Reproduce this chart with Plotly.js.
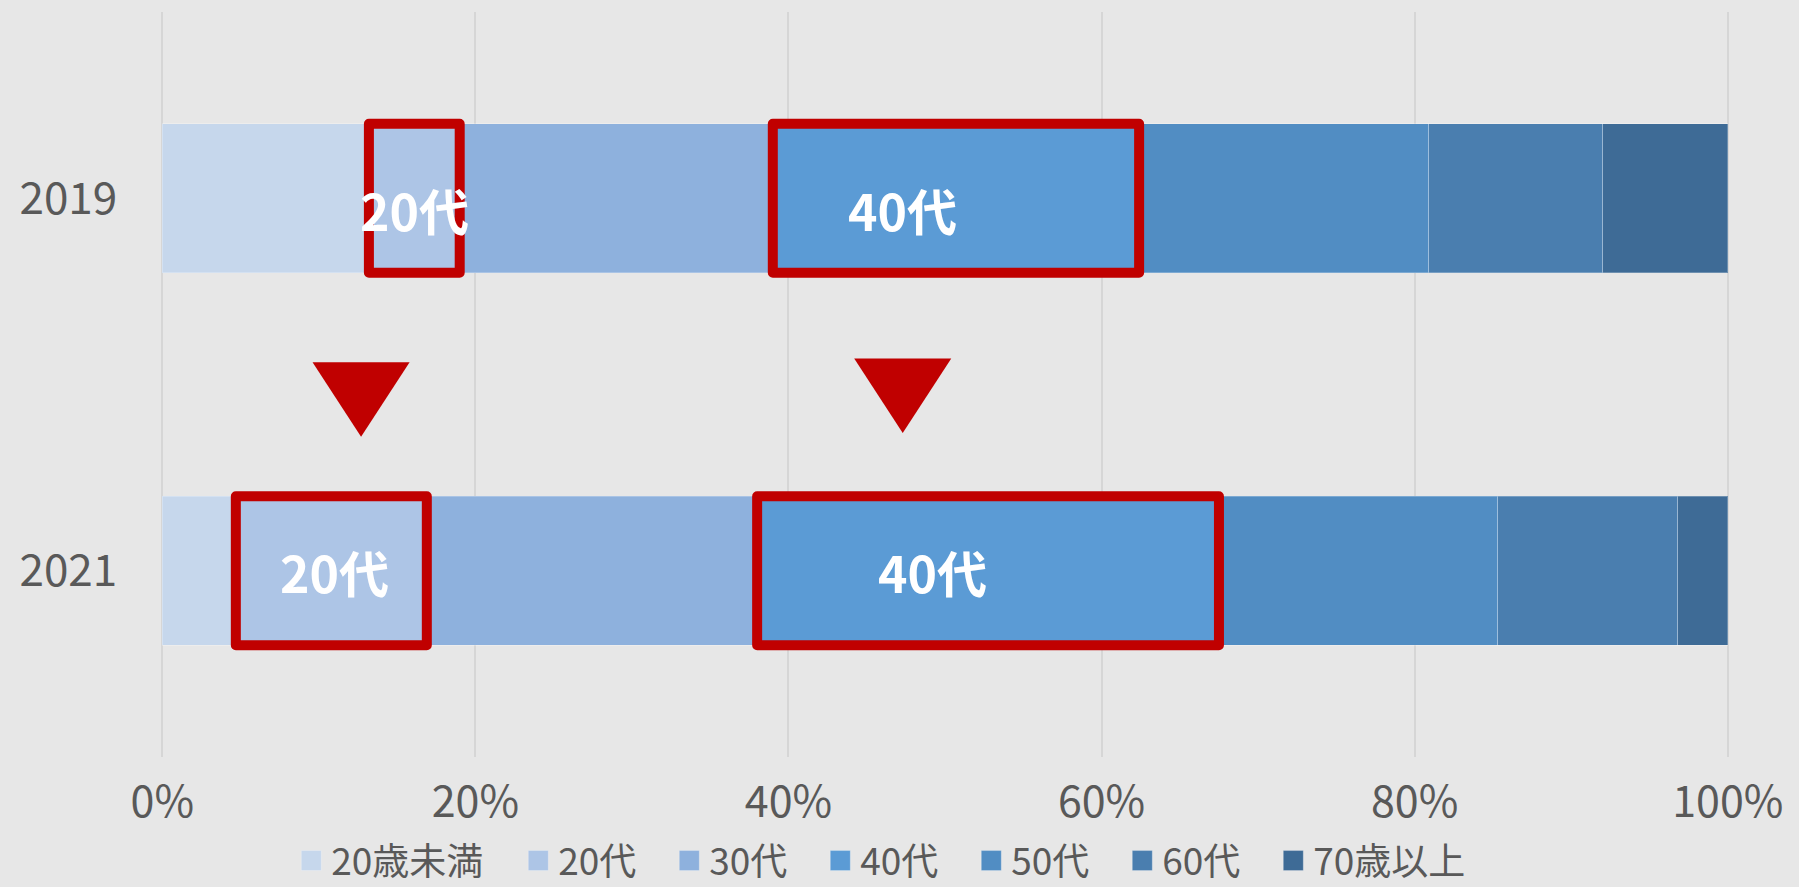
<!DOCTYPE html>
<html>
<head>
<meta charset="utf-8">
<script src="https://cdn.plot.ly/plotly-3.0.1.min.js"></script>
<style>
  html, body { margin: 0; padding: 0; background: #E7E7E7; }
  #chart { width: 1799px; height: 887px; }
</style>
</head>
<body>
<div id="chart"></div>
<script>
// ---- data ----
const categories = ['2019', '2021'];
const ageGroups = ['20歳未満', '20代', '30代', '40代', '50代', '60代', '70歳以上'];
const share2019 = [13.2, 5.8, 20.0, 23.4, 18.5, 11.1, 8.0];
const share2021 = [4.7, 12.2, 21.1, 29.5, 17.8, 11.5, 3.2];
const xTickVals = [0, 20, 40, 60, 80, 100];
const xTickLabels = ['0%', '20%', '40%', '60%', '80%', '100%'];
const highlightGroups = ['20代', '40代'];
// label x positions (percent) for highlight labels, per year [2019, 2021]
const labelX = { '20代': [16.1, 11.0], '40代': [47.3, 49.2] };
// down arrows between years (percent centres)
const arrowX = [12.7, 47.3];

// ---- style ----
const colors = ['#C6D7EC', '#ADC5E6', '#8EB1DD', '#5B9BD5', '#518DC3', '#4A7EAF', '#3E6B96'];
const legendWidths = [182, 106, 106, 106, 106, 106, 160];
const textColor = '#595959';
const fontFam = '"Noto Sans CJK JP", "Noto Sans", sans-serif';
const barWidth = 0.4;

const seriesByYear = [share2019, share2021];

const traces = ageGroups.map((g, i) => ({
  type: 'bar',
  orientation: 'h',
  name: g,
  y: categories,
  x: seriesByYear.map(s => s[i]),
  marker: { color: colors[i], line: { color: 'rgba(255,255,255,0.25)', width: 1 } },
  width: barWidth,
  legendwidth: legendWidths[i],
  hoverinfo: 'skip'
}));

// cumulative boundaries
function bounds(series, idx) {
  let start = 0;
  for (let k = 0; k < idx; k++) start += series[k];
  return [start, start + series[idx]];
}

const shapes = [];
const annotations = [];
categories.forEach((cat, ci) => {
  highlightGroups.forEach(g => {
    const gi = ageGroups.indexOf(g);
    const [x0, x1] = bounds(seriesByYear[ci], gi);
    shapes.push({
      type: 'rect', xref: 'x', yref: 'y',
      x0: x0, x1: x1, y0: ci - barWidth / 2, y1: ci + barWidth / 2,
      line: { color: '#C00000', width: 10 },
      fillcolor: 'rgba(0,0,0,0)', layer: 'above'
    });
    annotations.push({
      xref: 'x', yref: 'y', x: labelX[g][ci], y: ci + (ci === 0 ? 0.03 : 0.0),
      text: '<b>' + g + '</b>', showarrow: false,
      font: { family: fontFam, size: 50, color: '#FFFFFF' },
      xanchor: 'center', yanchor: 'middle'
    });
  });
});

// down triangles
const arrowTop = [0.44, 0.43];
const arrowTip = [0.64, 0.63];
const arrowHalf = 3.1;
arrowX.forEach((ax, i) => {
  shapes.push({
    type: 'path', xref: 'x', yref: 'y',
    path: `M ${ax - arrowHalf},${arrowTop[i]} L ${ax + arrowHalf},${arrowTop[i]} L ${ax},${arrowTip[i]} Z`,
    fillcolor: '#C00000', line: { width: 0 }, layer: 'above'
  });
});

const layout = {
  width: 1799, height: 887,
  paper_bgcolor: '#E7E7E7', plot_bgcolor: '#E7E7E7',
  margin: { l: 161, r: 70, t: 12, b: 130, autoexpand: false },
  barmode: 'stack',
  bargap: 0.6,
  font: { family: fontFam, color: textColor },
  xaxis: {
    range: [-0.08, 100.08], tickvals: xTickVals, ticktext: xTickLabels,
    showgrid: true, gridcolor: '#D6D6D6', gridwidth: 2, zeroline: false,
    showline: false, ticks: 'outside', ticklen: 7, tickcolor: 'rgba(0,0,0,0)',
    tickfont: { family: fontFam, size: 43, color: textColor }, fixedrange: true,
    automargin: false
  },
  yaxis: {
    type: 'category', categoryarray: categories, categoryorder: 'array',
    range: [1.5, -0.5],
    showgrid: false, zeroline: false, showline: false,
    ticks: 'outside', ticklen: 34, tickcolor: 'rgba(0,0,0,0)',
    tickfont: { family: fontFam, size: 44, color: textColor }, fixedrange: true,
    automargin: false
  },
  showlegend: true,
  legend: {
    orientation: 'h', traceorder: 'normal',
    x: 0.4616, xanchor: 'center',
    yref: 'container', y: 0, yanchor: 'bottom',
    font: { family: fontFam, size: 37, color: textColor },
    bgcolor: 'rgba(0,0,0,0)'
  },
  shapes: shapes,
  annotations: annotations,
  hovermode: false
};

Plotly.newPlot('chart', traces, layout, { displayModeBar: false, staticPlot: true }).then(() => {
  document.querySelectorAll('.legend .legendpoints path').forEach(p => {
    p.setAttribute('d', 'M10,10H-10V-10H10Z');
  });
  document.querySelectorAll('.shapelayer path').forEach(p => {
    p.style.strokeLinejoin = 'round';
  });
  // nudge legend slightly lower, as in the reference
  const lg = document.querySelector('g.legend');
  if (lg) {
    const t = lg.getAttribute('transform') || '';
    const m = t.match(/translate\(\s*([-\d.]+)[ ,]+([-\d.]+)\s*\)/);
    if (m) lg.setAttribute('transform', `translate(${parseFloat(m[1])},${parseFloat(m[2]) + 5})`);
  }
});
</script>
</body>
</html>
